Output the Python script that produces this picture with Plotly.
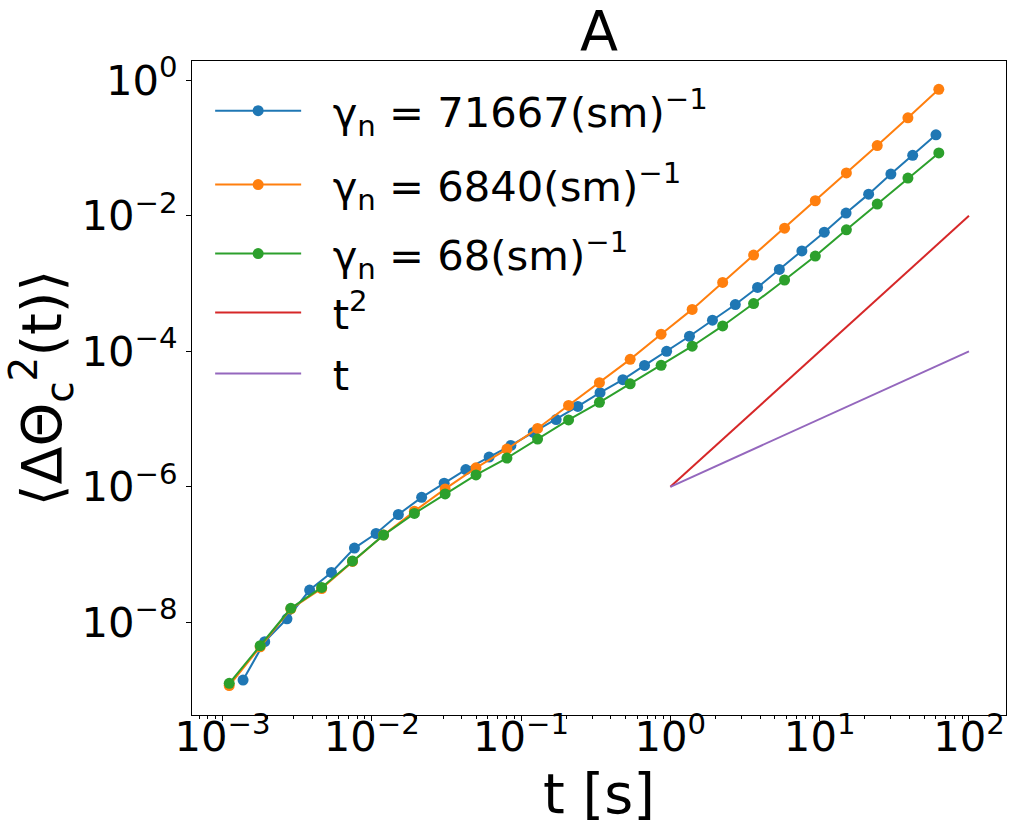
import plotly.graph_objects as go

# ---- data ----
t_blue = [0.001374, 0.001919, 0.002704, 0.003837, 0.005370, 0.007656, 0.01069, 0.01507,
          0.02158, 0.03055, 0.04266, 0.06109, 0.08551, 0.1208, 0.1718, 0.2399, 0.3381,
          0.4808, 0.6714, 0.9441, 1.343, 1.914, 2.723, 3.837, 5.370, 7.603, 10.74, 15.03,
          21.28, 29.99, 41.98, 60.12]
y_blue = [1.41e-9, 5.19e-9, 1.13e-8, 3.00e-8, 5.46e-8, 1.25e-7, 2.05e-7, 3.91e-7,
          7.00e-7, 1.13e-6, 1.80e-6, 2.75e-6, 4.08e-6, 6.35e-6, 9.86e-6, 1.54e-5, 2.45e-5,
          3.82e-5, 6.19e-5, 1.00e-4, 1.67e-4, 2.88e-4, 4.91e-4, 8.77e-4, 1.62e-3, 3.03e-3,
          5.73e-3, 1.10e-2, 2.09e-2, 4.14e-2, 7.83e-2, 0.157]

t_og = [0.00111, 0.00179, 0.00287, 0.00462, 0.00743, 0.0120, 0.0193, 0.0310, 0.0499,
        0.0804, 0.129, 0.208, 0.335, 0.538, 0.867, 1.40, 2.24, 3.61, 5.82, 9.35, 15.1,
        24.3, 39.0, 62.8]
y_orange = [1.17e-9, 4.37e-9, 1.58e-8, 3.16e-8, 7.94e-8, 1.95e-7, 4.37e-7, 9.33e-7,
            1.91e-6, 3.61e-6, 7.28e-6, 1.59e-5, 3.45e-5, 7.62e-5, 1.79e-4, 4.16e-4,
            1.04e-3, 2.64e-3, 6.56e-3, 1.67e-2, 4.29e-2, 0.109, 0.280, 0.736]
y_green = [1.26e-9, 4.53e-9, 1.61e-8, 3.28e-8, 8.02e-8, 1.94e-7, 4.05e-7, 7.87e-7,
           1.50e-6, 2.66e-6, 5.08e-6, 9.72e-6, 1.77e-5, 3.32e-5, 6.21e-5, 1.19e-4,
           2.37e-4, 5.08e-4, 1.13e-3, 2.55e-3, 6.21e-3, 1.49e-2, 3.61e-2, 8.47e-2]

t_ref = [1, 100]
y_t2 = [1e-6, 1e-2]
y_t1 = [1e-6, 1e-4]

names = ["γ<sub>n</sub> = 71667(sm)<sup>−1</sup>",
         "γ<sub>n</sub> = 6840(sm)<sup>−1</sup>",
         "γ<sub>n</sub> = 68(sm)<sup>−1</sup>",
         "t<sup>2</sup>", "t"]

x_tickvals = [1e-3, 1e-2, 1e-1, 1, 10, 100]
x_ticktext = ["10<sup>−3</sup>", "10<sup>−2</sup>", "10<sup>−1</sup>",
              "10<sup>0</sup>", "10<sup>1</sup>", "10<sup>2</sup>"]
y_tickvals = [1e-8, 1e-6, 1e-4, 1e-2, 1]
y_ticktext = ["10<sup>−8</sup>", "10<sup>−6</sup>", "10<sup>−4</sup>",
              "10<sup>−2</sup>", "10<sup>0</sup>"]

colors = ["#1f77b4", "#ff7f0e", "#2ca02c", "#d62728", "#9467bd"]

FONT = "DejaVu Sans"
PAD = "\u00a0\u00a0"
legend_ids = ["legend", "legend2", "legend3", "legend4", "legend5"]
legend_y = [0.9235, 0.8104, 0.7049, 0.6147, 0.5214]

fig = go.Figure()
series = [(t_blue, y_blue), (t_og, y_orange), (t_og, y_green)]
for i, (tx, ty) in enumerate(series):
    fig.add_trace(go.Scatter(x=tx, y=ty, mode="lines+markers", name=PAD + names[i],
                             legend=legend_ids[i],
                             line=dict(color=colors[i], width=2),
                             marker=dict(color=colors[i], size=11)))
fig.add_trace(go.Scatter(x=t_ref, y=y_t2, mode="lines", name=PAD + names[3],
                         legend=legend_ids[3], line=dict(color=colors[3], width=2)))
fig.add_trace(go.Scatter(x=t_ref, y=y_t1, mode="lines", name=PAD + names[4],
                         legend=legend_ids[4], line=dict(color=colors[4], width=2)))

minor_x = [m * 10 ** e for e in range(-4, 2) for m in range(2, 10)]

legends = {}
for lid, ly in zip(legend_ids, legend_y):
    legends[lid] = dict(x=0.0223, y=ly, xanchor="left", yanchor="middle",
                        bgcolor="rgba(255,255,255,0)", borderwidth=0,
                        font=dict(size=41.7, family=FONT, color="black"),
                        itemwidth=86)

fig.update_layout(
    width=1019, height=835,
    margin=dict(l=192, r=13, t=61, b=120),
    paper_bgcolor="white", plot_bgcolor="white",
    font=dict(family=FONT, color="black", size=41.7),
    title=dict(text="A", x=0.5, xref="paper", xanchor="center",
               y=0.963, yref="container", yanchor="middle",
               font=dict(size=55.6, family=FONT, color="black")),
    showlegend=True,
    **legends,
    xaxis=dict(type="log", range=[-3.204, 2.248], automargin=False,
               tickmode="array", tickvals=x_tickvals, ticktext=x_ticktext,
               ticks="outside", ticklen=5, tickwidth=1.1, tickcolor="black",
               ticklabelstandoff=-20,
               showline=True, linecolor="black", linewidth=1.1, mirror=True,
               showgrid=False, zeroline=False,
               minor=dict(tickmode="array", tickvals=minor_x, ticks="outside",
                          ticklen=3, tickwidth=0.8, tickcolor="black", showgrid=False),
               title=dict(text="t [s]", standoff=12,
                          font=dict(size=55.6, family=FONT, color="black"))),
    yaxis=dict(type="log", range=[-9.367, 0.285], automargin=False,
               tickmode="array", tickvals=y_tickvals, ticktext=y_ticktext,
               ticks="outside", ticklen=5, tickwidth=1.1, tickcolor="black",
               showline=True, linecolor="black", linewidth=1.1, mirror=True,
               showgrid=False, zeroline=False,
               title=dict(text="⟨ΔΘ<sub>c</sub><sup>2</sup>(t)⟩", standoff=1,
                          font=dict(size=55.6, family=FONT, color="black"))),
)

fig.write_html("out.html", config={"displayModeBar": False},
               post_script="document.body.style.margin='0px';")
